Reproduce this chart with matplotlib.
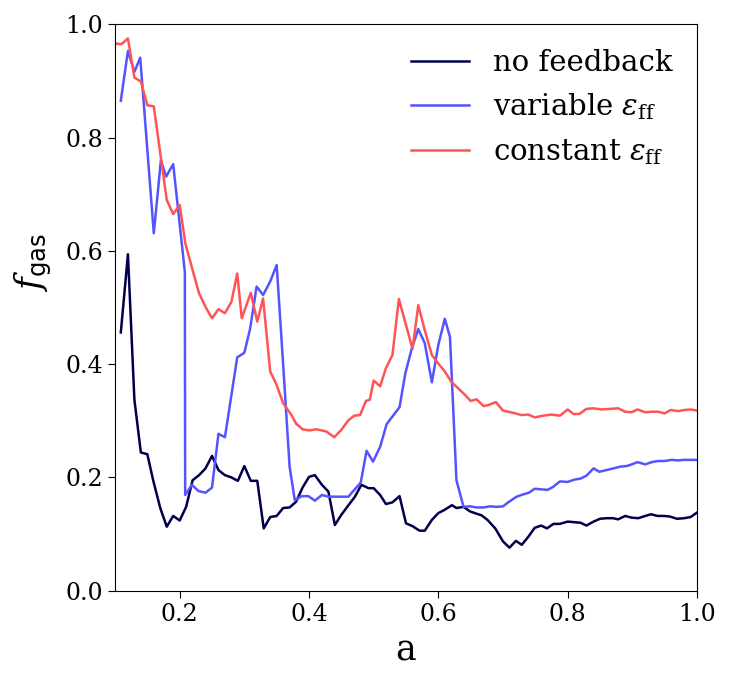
import matplotlib
matplotlib.use("Agg")
import matplotlib.pyplot as plt

plt.rcParams['font.family'] = ['DejaVu Serif']
plt.rcParams['mathtext.fontset'] = 'dejavuserif'

# no feedback
a_nofb = [0.109, 0.120, 0.130, 0.140, 0.150, 0.159, 0.170, 0.180, 0.190, 0.200,
          0.210, 0.220, 0.230, 0.240, 0.250, 0.260, 0.270, 0.280, 0.290, 0.300,
          0.310, 0.320, 0.330, 0.340, 0.350, 0.360, 0.370, 0.380, 0.390, 0.400,
          0.409, 0.420, 0.430, 0.440, 0.450, 0.461, 0.471, 0.481, 0.492, 0.500,
          0.510, 0.519, 0.529, 0.540, 0.550, 0.560, 0.571, 0.579, 0.590, 0.600,
          0.610, 0.621, 0.628, 0.639, 0.649, 0.659, 0.667, 0.676, 0.688, 0.700,
          0.710, 0.720, 0.729, 0.739, 0.749, 0.759, 0.768, 0.778, 0.788, 0.800,
          0.810, 0.820, 0.829, 0.840, 0.850, 0.860, 0.870, 0.878, 0.889, 0.899,
          0.909, 0.920, 0.929, 0.939, 0.949, 0.958, 0.969, 0.980, 0.990, 1.000]
f_nofb = [0.456, 0.594, 0.337, 0.244, 0.241, 0.195, 0.146, 0.113, 0.132, 0.124,
          0.148, 0.195, 0.204, 0.216, 0.238, 0.213, 0.204, 0.200, 0.194, 0.220,
          0.194, 0.194, 0.110, 0.130, 0.132, 0.146, 0.147, 0.157, 0.182, 0.201,
          0.204, 0.187, 0.175, 0.116, 0.134, 0.151, 0.166, 0.187, 0.181, 0.181,
          0.169, 0.153, 0.156, 0.167, 0.119, 0.114, 0.106, 0.106, 0.125, 0.137,
          0.143, 0.151, 0.146, 0.148, 0.140, 0.136, 0.133, 0.125, 0.110, 0.087,
          0.076, 0.088, 0.081, 0.095, 0.111, 0.115, 0.110, 0.118, 0.118, 0.122,
          0.121, 0.120, 0.115, 0.122, 0.127, 0.128, 0.128, 0.126, 0.132, 0.129,
          0.128, 0.132, 0.135, 0.132, 0.132, 0.131, 0.127, 0.128, 0.130, 0.138]

# variable eps_ff
a_var = [0.109, 0.120, 0.130, 0.139, 0.160, 0.171, 0.179, 0.190, 0.2080, 0.2085,
         0.219, 0.229, 0.240, 0.250, 0.260, 0.270, 0.289, 0.300, 0.309, 0.319,
         0.329, 0.340, 0.350, 0.360, 0.370, 0.378, 0.389, 0.399, 0.409, 0.420,
         0.430, 0.440, 0.450, 0.461, 0.470, 0.480, 0.489, 0.499, 0.510, 0.520,
         0.530, 0.540, 0.549, 0.559, 0.569, 0.579, 0.590, 0.600, 0.610, 0.618,
         0.628, 0.639, 0.649, 0.659, 0.670, 0.680, 0.690, 0.700, 0.708, 0.721,
         0.731, 0.740, 0.749, 0.759, 0.769, 0.777, 0.788, 0.800, 0.810, 0.820,
         0.829, 0.840, 0.849, 0.860, 0.871, 0.881, 0.891, 0.899, 0.908, 0.920,
         0.930, 0.940, 0.950, 0.961, 0.971, 0.980, 0.990, 1.000]
f_var = [0.865, 0.953, 0.916, 0.941, 0.631, 0.760, 0.731, 0.753, 0.563, 0.169,
         0.187, 0.176, 0.173, 0.182, 0.277, 0.271, 0.412, 0.420, 0.463, 0.537,
         0.522, 0.546, 0.575, 0.400, 0.219, 0.160, 0.167, 0.167, 0.159, 0.169,
         0.166, 0.166, 0.166, 0.166, 0.178, 0.191, 0.247, 0.228, 0.254, 0.294,
         0.309, 0.324, 0.384, 0.428, 0.462, 0.437, 0.368, 0.434, 0.480, 0.448,
         0.195, 0.148, 0.149, 0.147, 0.147, 0.149, 0.148, 0.149, 0.156, 0.166,
         0.170, 0.173, 0.180, 0.179, 0.178, 0.183, 0.193, 0.192, 0.196, 0.198,
         0.203, 0.216, 0.210, 0.213, 0.216, 0.219, 0.220, 0.223, 0.227, 0.223,
         0.227, 0.229, 0.229, 0.231, 0.230, 0.231, 0.231, 0.231]

# constant eps_ff
a_con = [0.100, 0.110, 0.120, 0.130, 0.140, 0.150, 0.160, 0.180, 0.190, 0.200,
         0.209, 0.220, 0.230, 0.240, 0.250, 0.260, 0.270, 0.280, 0.289, 0.296,
         0.310, 0.320, 0.329, 0.340, 0.349, 0.360, 0.373, 0.380, 0.390, 0.400,
         0.412, 0.427, 0.439, 0.450, 0.461, 0.470, 0.479, 0.488, 0.494, 0.500,
         0.510, 0.519, 0.529, 0.539, 0.550, 0.560, 0.569, 0.579, 0.590, 0.600,
         0.610, 0.620, 0.631, 0.641, 0.650, 0.659, 0.670, 0.678, 0.689, 0.700,
         0.716, 0.729, 0.739, 0.749, 0.762, 0.775, 0.788, 0.800, 0.809, 0.818,
         0.829, 0.840, 0.853, 0.866, 0.878, 0.889, 0.899, 0.908, 0.920, 0.930,
         0.940, 0.950, 0.959, 0.971, 0.980, 0.990, 1.000]
f_con = [0.966, 0.965, 0.975, 0.906, 0.899, 0.857, 0.855, 0.690, 0.665, 0.681,
         0.612, 0.566, 0.525, 0.501, 0.481, 0.497, 0.490, 0.510, 0.560, 0.481,
         0.526, 0.475, 0.516, 0.387, 0.366, 0.331, 0.310, 0.295, 0.285, 0.283,
         0.285, 0.281, 0.271, 0.284, 0.301, 0.309, 0.310, 0.335, 0.337, 0.371,
         0.361, 0.393, 0.416, 0.515, 0.469, 0.427, 0.504, 0.460, 0.416, 0.401,
         0.387, 0.369, 0.357, 0.346, 0.335, 0.338, 0.326, 0.328, 0.333, 0.318,
         0.314, 0.310, 0.311, 0.306, 0.309, 0.311, 0.309, 0.320, 0.312, 0.312,
         0.321, 0.322, 0.320, 0.321, 0.322, 0.316, 0.315, 0.320, 0.315, 0.316,
         0.316, 0.313, 0.319, 0.317, 0.319, 0.320, 0.318]

labels = ["no feedback", r"variable $\varepsilon_{\rm ff}$", r"constant $\varepsilon_{\rm ff}$"]
colors = ["#00004c", "#5454ff", "#ff5454"]

fig = plt.figure(figsize=(7.32, 6.86), dpi=100)
ax = fig.add_axes([0.1571, 0.1389, 0.7951, 0.8257])

ax.plot(a_nofb, f_nofb, color=colors[0], lw=1.8, label=labels[0])
ax.plot(a_var, f_var, color=colors[1], lw=1.8, label=labels[1])
ax.plot(a_con, f_con, color=colors[2], lw=1.8, label=labels[2])

ax.set_xlim(0.1, 1.0)
ax.set_ylim(0.0, 1.0)
ax.set_xticks([0.2, 0.4, 0.6, 0.8, 1.0])
ax.set_yticks([0.0, 0.2, 0.4, 0.6, 0.8, 1.0])
ax.tick_params(labelsize=17, length=5)
ax.set_xlabel("a", fontsize=25, labelpad=6)
ax.set_ylabel(r"$f_{\mathsf{gas}}$", fontsize=25)
ax.yaxis.set_label_coords(-0.105, 0.58)

ax.legend(loc="upper right", frameon=False, fontsize=21, handlelength=2.0,
          labelspacing=0.5, borderaxespad=0.45)

fig.savefig("out.png", dpi=100)
